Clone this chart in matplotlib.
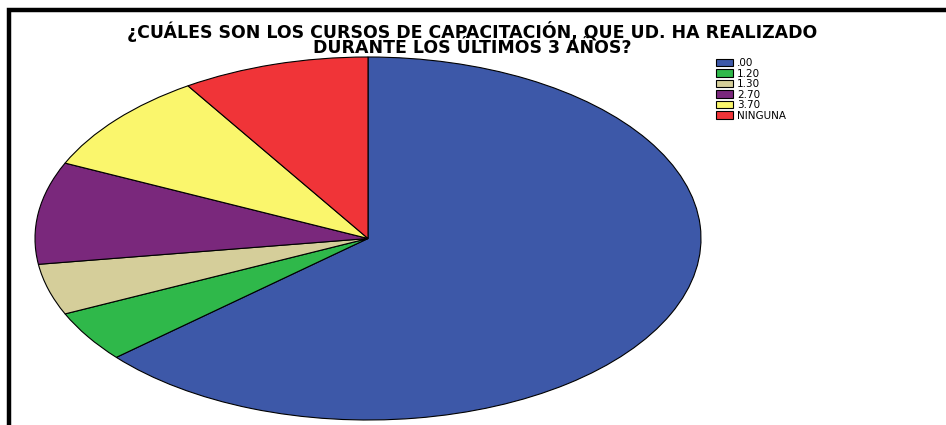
import matplotlib
matplotlib.use("Agg")
import matplotlib.pyplot as plt
from matplotlib.patches import Rectangle

categories = [".00", "1.20", "1.30", "2.70", "3.70", "NINGUNA"]
counts = [14, 1, 1, 2, 2, 2]
colors = ["#3D58A8", "#2FB84A", "#D5CE9A", "#7A287C", "#FAF66C", "#F03438"]
title_lines = ["¿CUÁLES SON LOS CURSOS DE CAPACITACIÓN, QUE UD. HA REALIZADO",
               "DURANTE LOS ÚLTIMOS 3 AÑOS?"]

W, H = 946, 425
fig = plt.figure(figsize=(W / 100, H / 100), dpi=100)
fig.patch.set_facecolor("white")

# pie axes (ellipse bounding box in pixels: x 35-701, y 57-420 from top)
x0, x1, y0, y1 = 35, 701, 57, 420
ax = fig.add_axes([x0 / W, (H - y1) / H, (x1 - x0) / W, (y1 - y0) / H])
wedges, _ = ax.pie(counts, colors=colors, startangle=90, counterclock=False,
                   wedgeprops=dict(edgecolor="black", linewidth=0.8))
ax.set_aspect("auto")
ax.set_xlim(-1, 1)
ax.set_ylim(-1, 1)
ax.axis("off")

# title (single two-line text, tight line spacing as in the reference)
fig.text(472 / W, 1 - 39 / H, "\n".join(title_lines), ha="center",
         va="center", fontsize=12.5, fontweight="bold", family="DejaVu Sans",
         linespacing=0.78)

# legend
fig.legend(wedges, categories, loc="upper left",
           bbox_to_anchor=(716 / W, 1 - 58 / H), frameon=False,
           prop=dict(family="DejaVu Sans", size=7.5),
           handlelength=1.6, handleheight=0.75, handletextpad=0.4,
           labelspacing=0.05, borderpad=0, borderaxespad=0)

# frame (left and top black border)
fig.add_artist(Rectangle((9 / W, -0.2), 1.5, 1.2 - 10 / H,
                         transform=fig.transFigure, fill=False,
                         edgecolor="black", linewidth=3.2))

fig.savefig("out.png", dpi=100, facecolor="white")
